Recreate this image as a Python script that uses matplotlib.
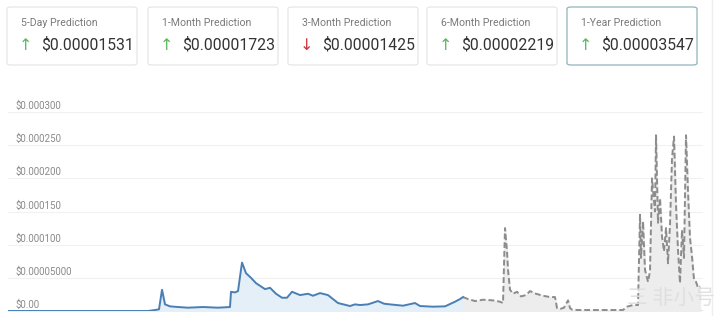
import matplotlib.pyplot as plt
from matplotlib.patches import FancyBboxPatch
from matplotlib.lines import Line2D
import matplotlib.transforms as mtransforms

plt.rcParams['font.family'] = ['Roboto', 'Noto Sans CJK SC', 'DejaVu Sans']

# ---- prediction cards ----
card_titles = ["5-Day Prediction", "1-Month Prediction", "3-Month Prediction",
               "6-Month Prediction", "1-Year Prediction"]
card_values = ["$0.00001531", "$0.00001723", "$0.00001425", "$0.00002219", "$0.00003547"]
card_up = [True, True, False, True, True]

# ---- price history (solid) and forecast (dashed) ----
hist_day = [0, 140, 147, 151, 154, 157, 162, 170, 180, 195, 210, 222, 223, 227, 230,
            234, 236, 238, 243, 248, 252, 257, 262, 268, 274, 279, 284, 292, 300,
            305, 312, 320, 325, 330, 342, 347, 352, 360, 370, 376, 382, 395, 407,
            412, 425, 437, 447, 452, 455]
hist_val = [0, 0, 1.5e-6, 2.5e-6, 3.2e-5, 1.0e-5, 7e-6, 6e-6, 5e-6, 6e-6, 5e-6, 6e-6,
            2.9e-5, 2.8e-5, 3.0e-5, 7.3e-5, 6.5e-5, 5.7e-5, 5.0e-5, 4.2e-5, 3.8e-5,
            3.3e-5, 3.5e-5, 2.6e-5, 2.0e-5, 2.0e-5, 2.9e-5, 2.4e-5, 2.6e-5, 2.3e-5,
            2.7e-5, 2.4e-5, 1.8e-5, 1.2e-5, 7.5e-6, 1.0e-5, 9e-6, 1.0e-5, 1.5e-5,
            1.1e-5, 1.0e-5, 8e-6, 1.2e-5, 7.5e-6, 6.5e-6, 7e-6, 1.4e-5, 1.8e-5, 2.1e-5]

fc_day = [455, 460, 467, 475, 485, 492, 495, 497, 499, 500, 502, 505, 509, 513, 518,
          522, 528, 535, 542, 547, 549, 552, 556, 560, 562, 564, 570, 585, 600, 615,
          619, 625, 630, 632, 633, 635, 637, 640, 642, 644, 647, 648, 650, 652, 654,
          656, 658, 660, 662, 664, 666, 668, 670, 672, 674, 676, 678, 680, 682, 684,
          686, 688, 690, 692]
fc_val = [2.1e-5, 1.8e-5, 1.5e-5, 1.7e-5, 1.6e-5, 1.4e-5, 1.2e-5, 1.25e-4, 9e-5, 6.2e-5,
          3.2e-5, 2.6e-5, 2.9e-5, 2.2e-5, 2.4e-5, 3.0e-5, 2.6e-5, 2.3e-5, 2.1e-5,
          2.1e-5, 4.5e-6, 3e-6, 5e-6, 1.6e-5, 4.5e-6, 2e-6, 1.5e-6, 1.5e-6, 1.5e-6,
          1.5e-6, 6.5e-6, 9e-6, 9e-6, 1.45e-4, 8e-5, 1.35e-4, 6.2e-5, 4.4e-5, 6e-5,
          2.0e-4, 1.5e-4, 2.65e-4, 1.33e-4, 1.7e-4, 1.12e-4, 9e-5, 1.25e-4, 7.2e-5,
          1.3e-4, 2.3e-4, 2.63e-4, 1.6e-4, 9.2e-5, 4.2e-5, 1.22e-4, 8e-5, 2.65e-4,
          1.8e-4, 1.1e-4, 8.2e-5, 4.7e-5, 4.4e-5, 3.5e-5, 3.7e-5]

yticks = [0, 0.00005, 0.0001, 0.00015, 0.0002, 0.00025, 0.0003]
ytick_labels = ["$0.00", "$0.00005000", "$0.000100", "$0.000150",
                "$0.000200", "$0.000250", "$0.000300"]

W, H = 718, 316
fig = plt.figure(figsize=(W / 100, H / 100), dpi=100)
fig.patch.set_facecolor('white')

# faint page border on the right
fig.lines.append(Line2D([712 / W, 712 / W], [0, 1], transform=fig.transFigure,
                        color='#efefef', linewidth=1))

# cards
card_x = [7, 148, 288, 427, 567]
card_w = 130
for i in range(5):
    x0 = card_x[i]
    edge = '#8fb3ba' if i == 4 else '#e6e6e6'
    box = FancyBboxPatch((x0 / W, 1 - 65 / H), card_w / W, 58 / H,
                         boxstyle="round,pad=0,rounding_size=0.006",
                         transform=fig.transFigure, facecolor='white',
                         edgecolor=edge, linewidth=0.9)
    fig.patches.append(box)
    fig.text((x0 + 14) / W, 1 - 23 / H, card_titles[i], fontsize=7.6,
             color='#7a7a7a', va='center', ha='left')
    arrow = '↑' if card_up[i] else '↓'
    acol = '#5cb85c' if card_up[i] else '#d0343c'
    fig.text((x0 + 12) / W, 1 - 45.5 / H, arrow, fontsize=11.5, color=acol,
             va='center', ha='left', family=['DejaVu Sans'])
    fig.text((x0 + 34) / W, 1 - 45 / H, card_values[i], fontsize=11.3,
             color='#333333', va='center', ha='left')

# chart
ax = fig.add_axes([8 / W, 5 / H, 695 / W, 199 / H])
ax.set_xlim(0, 695)
ax.set_ylim(0, 0.0003)
for s in ax.spines.values():
    s.set_visible(False)
ax.set_xticks([])
ax.set_yticks(yticks)
ax.set_yticklabels([])
ax.tick_params(axis='y', length=0)
ax.grid(axis='y', color='#f1f1f1', linewidth=0.8)
ax.axhline(0, color='#d6d6d6', linewidth=1.2, zorder=1)

trans = mtransforms.blended_transform_factory(fig.transFigure, ax.transData)
offset = mtransforms.ScaledTranslation(0, 6 / 100, fig.dpi_scale_trans)
for v, lab in zip(yticks, ytick_labels):
    fig.text(16 / W, v, lab, transform=trans + offset, fontsize=7,
             color='#8a8a8a', va='center', ha='left')

ax.fill_between(hist_day, hist_val, 0, color='#e4eff8', zorder=2)
ax.plot(hist_day, hist_val, color='#4a7fb5', linewidth=1.4, zorder=4)
ax.fill_between(fc_day, fc_val, 0, color='#ededed', zorder=2)
ax.plot(fc_day, fc_val, color='#8c8c8c', linewidth=1.4, linestyle=(0, (3, 1.5)),
        zorder=3)

# watermark
fig.text(627 / W, 18 / H, "三 非小号", fontsize=15, color='#dedede', alpha=0.9,
         va='center', ha='left', family=['Noto Sans CJK SC', 'DejaVu Sans'])

fig.savefig('out.png', dpi=100)
